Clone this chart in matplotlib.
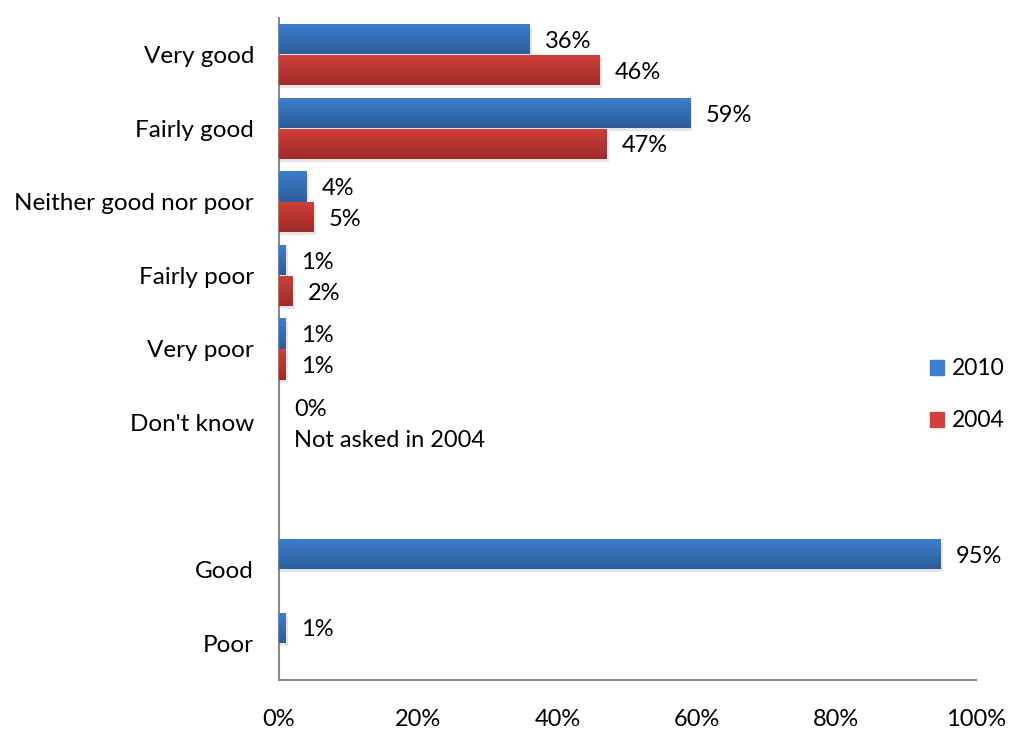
import numpy as np
import matplotlib
matplotlib.use("Agg")
import matplotlib.pyplot as plt
from matplotlib.colors import LinearSegmentedColormap
from matplotlib.patches import Rectangle

categories = ["Very good", "Fairly good", "Neither good nor poor", "Fairly poor",
              "Very poor", "Don't know", "", "Good", "Poor"]
vals_2010 = [36, 59, 4, 1, 1, 0, None, 95, 1]
vals_2004 = [46, 47, 5, 2, 1, None, None, None, None]
labels_2010 = ["36%", "59%", "4%", "1%", "1%", "0%", "", "95%", "1%"]
labels_2004 = ["46%", "47%", "5%", "2%", "1%", "Not asked in 2004", "", "", ""]

BLUE_TOP, BLUE_BOT = "#3D7ECE", "#2C5D9A"
RED_TOP, RED_BOT = "#D03F3B", "#9E2B29"
FS = 17

plt.rcParams["font.family"] = ["Lato", "DejaVu Sans"]

fig = plt.figure(figsize=(10.09, 7.31), dpi=100)
ax = fig.add_axes([0.2765, 0.0698, 0.6905, 0.9056])

h = 0.41
off = 0.21
y = np.arange(len(categories))


def gradient_bars(ypos, vals, top, bot):
    cmap = LinearSegmentedColormap.from_list("g", [top, bot])
    grad = np.linspace(0, 1, 64).reshape(-1, 1)
    for yy, v in zip(ypos, vals):
        if v is None or v == 0:
            continue
        bars = ax.barh(yy, v, height=h, color=top, linewidth=0)
        rect = bars[0]
        # ombre legere
        ax.add_patch(Rectangle((0, yy - h / 2 + 0.04), v + 0.35, h, color="#000000",
                               alpha=0.10, linewidth=0, zorder=1))
        im = ax.imshow(grad, extent=[0, v, yy + h / 2, yy - h / 2], cmap=cmap,
                       aspect="auto", zorder=3, interpolation="bilinear")
        im.set_clip_path(rect)
        rect.set_zorder(2)


gradient_bars(y - off, vals_2010, BLUE_TOP, BLUE_BOT)
gradient_bars(y + off, vals_2004, RED_TOP, RED_BOT)

for yy, v, lab in zip(y - off, vals_2010, labels_2010):
    if lab:
        ax.text((v or 0) + 2.2, yy + 0.03, lab, va="center", ha="left", fontsize=FS)
for yy, v, lab in zip(y + off, vals_2004, labels_2004):
    if lab:
        ax.text((v or 0) + 2.2, yy + 0.03, lab, va="center", ha="left", fontsize=FS)

ax.set_xlim(0, 100)
ax.set_ylim(len(categories) - 0.5, -0.5)
ax.set_xticks([0, 20, 40, 60, 80, 100])
ax.set_xticklabels(["0%", "20%", "40%", "60%", "80%", "100%"], fontsize=FS)
ax.set_yticks(y)
ax.set_yticklabels(categories, fontsize=17.5)
ax.tick_params(axis="x", length=0, pad=21)
ax.tick_params(axis="y", length=0, pad=18)
for s in ["top", "right"]:
    ax.spines[s].set_visible(False)
for s in ["left", "bottom"]:
    ax.spines[s].set_color("#898989")
    ax.spines[s].set_linewidth(1.5)

# legende
handles = [Rectangle((0, 0), 1, 1, color=BLUE_TOP), Rectangle((0, 0), 1, 1, color=RED_TOP)]
fig.legend(handles, ["2010", "2004"], loc="center left", bbox_to_anchor=(0.922, 0.46),
           frameon=False, fontsize=16.5, handlelength=0.6, handleheight=0.65,
           handletextpad=0.35, labelspacing=1.35, borderpad=0, borderaxespad=0)

fig.savefig("out.png", dpi=100)
